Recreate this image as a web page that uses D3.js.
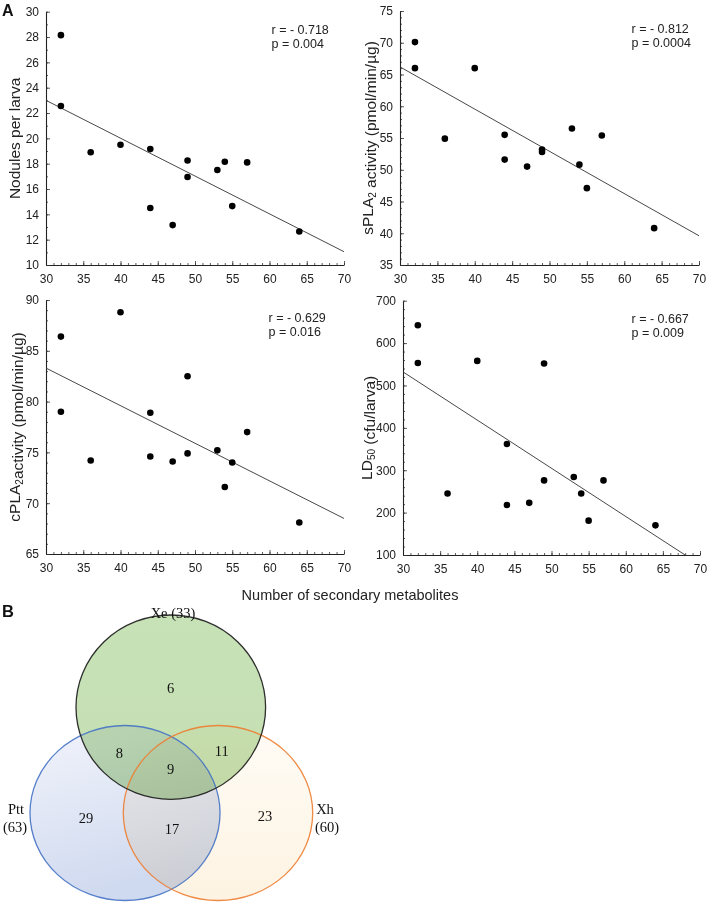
<!DOCTYPE html>
<html>
<head>
<meta charset="utf-8">
<script src="https://cdn.jsdelivr.net/npm/d3@7"></script>
<style>
  html, body { margin: 0; padding: 0; background: #fff; }
  svg { display: block; }
  .tick text { font-family: "Liberation Sans", Arial, sans-serif; font-size: 12px; fill: #222; }
</style>
</head>
<body>
<svg id="chart" width="709" height="903"></svg>
<script>
// ---------------- DATA ----------------
const metabolites = [32, 32, 36, 40, 44, 44, 47, 49, 49, 53, 54, 55, 57, 64];
const nodules     = [28.15, 22.55, 18.9, 19.5, 19.15, 14.5, 13.15, 18.25, 16.95, 17.5, 18.15, 14.65, 18.1, 12.65];
const sPLA2       = [70.1, 66.0, 54.9, 66.0, 55.5, 51.6, 50.5, 52.8, 53.2, 56.5, 50.8, 47.1, 55.4, 40.8];
const cPLA2       = [86.4, 79.0, 74.2, 88.8, 78.9, 74.6, 74.1, 82.5, 74.9, 75.2, 71.6, 74.0, 77.0, 68.1];
const LD50        = [642, 553, 245, 558, 362, 218, 223, 552, 276, 284, 245, 181, 276, 170];

const xTicks = [30, 35, 40, 45, 50, 55, 60, 65, 70];
const yTicks1 = [10, 12, 14, 16, 18, 20, 22, 24, 26, 28, 30];
const yTicks2 = [35, 40, 45, 50, 55, 60, 65, 70, 75];
const yTicks3 = [65, 70, 75, 80, 85, 90];
const yTicks4 = [100, 200, 300, 400, 500, 600, 700];

// regression line end points [x0, y0, x1, y1]
const fit1 = [30, 23.0, 70, 11.05];
const fit2 = [30, 66.2, 70, 39.6];
const fit3 = [30, 83.3, 70, 68.5];
const fit4 = [30, 532, 68, 100];

const stats1 = ["r = - 0.718", "p = 0.004"];
const stats2 = ["r = - 0.812", "p = 0.0004"];
const stats3 = ["r = - 0.629", "p = 0.016"];
const stats4 = ["r = - 0.667", "p = 0.009"];

const xTitle = "Number of secondary metabolites";

// Venn
const vennSets = ["Xe (33)", "Ptt", "(63)", "Xh", "(60)"];
const vennCounts = { xeOnly: 6, xePtt: 8, all: 9, xeXh: 11, pttOnly: 29, pttXh: 17, xhOnly: 23 };

// ---------------- DRAW ----------------
const svg = d3.select("#chart");
const FONT = '"Liberation Sans", Arial, sans-serif';
const SERIF = '"Liberation Serif", "Times New Roman", serif';

function panel(cfg) {
  const g = svg.append("g");
  const x = d3.scaleLinear().domain([30, 70]).range([cfg.left, cfg.right]);
  const y = d3.scaleLinear().domain(cfg.yDomain).range([cfg.bottom, cfg.top]);

  // minor ticks x
  const xMinor = d3.range(30, 71, 1);
  g.append("g").attr("transform", `translate(0,${cfg.bottom})`)
    .call(d3.axisBottom(x).tickValues(xMinor).tickSize(-2).tickSizeOuter(0).tickFormat(""))
    .call(s => s.select(".domain").remove())
    .call(s => s.selectAll("line").attr("stroke", "#333").attr("stroke-width", 0.8));
  // major x
  g.append("g").attr("transform", `translate(0,${cfg.bottom})`)
    .call(d3.axisBottom(x).tickValues(xTicks).tickSize(-4).tickSizeOuter(0).tickPadding(9))
    .call(s => s.select(".domain").attr("stroke", "#222").attr("stroke-width", 1.1))
    .call(s => s.selectAll("line").attr("stroke", "#333").attr("stroke-width", 0.8));

  // minor y
  const yMinor = d3.range(cfg.yDomain[0], cfg.yDomain[1] + 1e-9, cfg.yMinor);
  g.append("g").attr("transform", `translate(${cfg.left},0)`)
    .call(d3.axisLeft(y).tickValues(yMinor).tickSize(-2).tickSizeOuter(0).tickFormat(""))
    .call(s => s.select(".domain").remove())
    .call(s => s.selectAll("line").attr("stroke", "#333").attr("stroke-width", 0.8));
  // major y
  g.append("g").attr("transform", `translate(${cfg.left},0)`)
    .call(d3.axisLeft(y).tickValues(cfg.yTicks).tickSize(-4).tickSizeOuter(0).tickPadding(7))
    .call(s => s.select(".domain").attr("stroke", "#222").attr("stroke-width", 1.1))
    .call(s => s.selectAll("line").attr("stroke", "#333").attr("stroke-width", 0.8));

  // regression line
  g.append("line")
    .attr("x1", x(cfg.fit[0])).attr("y1", y(cfg.fit[1]))
    .attr("x2", x(cfg.fit[2])).attr("y2", y(cfg.fit[3]))
    .attr("stroke", "#333").attr("stroke-width", 0.9);

  // points
  g.selectAll("circle.pt").data(metabolites.map((m, i) => [m, cfg.values[i]]))
    .join("circle").attr("class", "pt")
    .attr("cx", d => x(d[0])).attr("cy", d => y(d[1])).attr("r", 3.3)
    .attr("fill", "#000");

  // stats
  g.append("text").attr("x", cfg.statsX).attr("y", cfg.top + 22)
    .attr("font-family", FONT).attr("font-size", 12.5).attr("fill", "#222").text(cfg.stats[0]);
  g.append("text").attr("x", cfg.statsX).attr("y", cfg.top + 36)
    .attr("font-family", FONT).attr("font-size", 12.5).attr("fill", "#222").text(cfg.stats[1]);

  // y title
  const t = g.append("text")
    .attr("transform", `translate(${cfg.titleX},${(cfg.top + cfg.bottom) / 2}) rotate(-90)`)
    .attr("text-anchor", "middle").attr("dy", "0.35em")
    .attr("font-family", FONT).attr("font-size", 15.5).attr("fill", "#222");
  cfg.title.forEach(part => {
    if (part.sub) {
      t.append("tspan").attr("font-size", 10).attr("dy", "0.3em").text(part.text);
      t.append("tspan").attr("dy", "-0.2em").text("");
    } else {
      t.append("tspan").text(part.text);
    }
  });
}

panel({ left: 46, right: 344, top: 11.7, bottom: 265, yDomain: [10, 30], yTicks: yTicks1, yMinor: 1,
  values: nodules, fit: fit1, stats: stats1, statsX: 271.5, titleX: 14.5,
  title: [{ text: "Nodules per larva" }] });
panel({ left: 400, right: 699, top: 11, bottom: 265, yDomain: [35, 75], yTicks: yTicks2, yMinor: 1,
  values: sPLA2, fit: fit2, stats: stats2, statsX: 631.5, titleX: 368,
  title: [{ text: "sPLA" }, { text: "2", sub: true }, { text: " activity (pmol/min/µg)" }] });
panel({ left: 46, right: 344, top: 300, bottom: 554, yDomain: [65, 90], yTicks: yTicks3, yMinor: 1,
  values: cPLA2, fit: fit3, stats: stats3, statsX: 268.5, titleX: 14.5,
  title: [{ text: "cPLA" }, { text: "2", sub: true }, { text: "activity (pmol/min/µg)" }] });
panel({ left: 403, right: 700, top: 300.7, bottom: 555, yDomain: [100, 700], yTicks: yTicks4, yMinor: 20,
  values: LD50, fit: fit4, stats: stats4, statsX: 631.5, titleX: 366.5,
  title: [{ text: "LD" }, { text: "50", sub: true }, { text: " (cfu/larva)" }] });

// shared x title
svg.append("text").attr("x", 350).attr("y", 600).attr("text-anchor", "middle")
  .attr("font-family", FONT).attr("font-size", 14.5).attr("fill", "#222").text(xTitle);

// panel letters
svg.append("text").attr("x", 2).attr("y", 16).attr("font-family", FONT).attr("font-weight", "bold")
  .attr("font-size", 16).attr("fill", "#111").text("A");
svg.append("text").attr("x", 2).attr("y", 617).attr("font-family", FONT).attr("font-weight", "bold")
  .attr("font-size", 16.5).attr("fill", "#111").text("B");

// ---------------- VENN ----------------
const defs = svg.append("defs");
const gradB = defs.append("linearGradient").attr("id", "gB").attr("x1", 0).attr("y1", 0).attr("x2", 0.3).attr("y2", 1);
gradB.append("stop").attr("offset", "0%").attr("stop-color", "#f2f4fb");
gradB.append("stop").attr("offset", "100%").attr("stop-color", "#cfd9ef");
const gradO = defs.append("linearGradient").attr("id", "gO").attr("x1", 0).attr("y1", 0).attr("x2", 0).attr("y2", 1);
gradO.append("stop").attr("offset", "0%").attr("stop-color", "#fffcf6");
gradO.append("stop").attr("offset", "100%").attr("stop-color", "#fdf3e2");
const gradG = defs.append("linearGradient").attr("id", "gG").attr("x1", 0).attr("y1", 0).attr("x2", 0).attr("y2", 1);
gradG.append("stop").attr("offset", "0%").attr("stop-color", "#c8e2b8");
gradG.append("stop").attr("offset", "100%").attr("stop-color", "#c4dfb1");

const ellipses = [
  { cx: 125, cy: 813, rx: 95, ry: 87.5, fill: "url(#gB)", stroke: "#4472c4" },
  { cx: 218, cy: 813, rx: 94.7, ry: 87.5, fill: "url(#gO)", stroke: "#ed7d31" },
  { cx: 170.8, cy: 707.2, rx: 94.8, ry: 92.2, fill: "url(#gG)", stroke: "#1a1a1a" }
];
const vg = svg.append("g");
vg.selectAll("ellipse.fill").data(ellipses).join("ellipse").attr("class", "fill")
  .attr("cx", d => d.cx).attr("cy", d => d.cy).attr("rx", d => d.rx).attr("ry", d => d.ry)
  .attr("fill", d => d.fill).style("mix-blend-mode", "multiply");
vg.selectAll("ellipse.stroke").data(ellipses).join("ellipse").attr("class", "stroke")
  .attr("cx", d => d.cx).attr("cy", d => d.cy).attr("rx", d => d.rx).attr("ry", d => d.ry)
  .attr("fill", "none").attr("stroke", d => d.stroke).attr("stroke-width", 1.3)
  .attr("stroke-opacity", 0.9);

const vennLabels = [
  { t: vennSets[0], x: 173, y: 613 },
  { t: vennSets[1], x: 16, y: 809 },
  { t: vennSets[2], x: 15, y: 827 },
  { t: vennSets[3], x: 325, y: 809 },
  { t: vennSets[4], x: 327, y: 827 },
  { t: vennCounts.xeOnly, x: 170.7, y: 688 },
  { t: vennCounts.xePtt, x: 119.3, y: 753 },
  { t: vennCounts.all, x: 170.7, y: 769 },
  { t: vennCounts.xeXh, x: 221.7, y: 751 },
  { t: vennCounts.pttOnly, x: 86, y: 818 },
  { t: vennCounts.pttXh, x: 172, y: 829 },
  { t: vennCounts.xhOnly, x: 265, y: 816 }
];
vg.selectAll("text").data(vennLabels).join("text")
  .attr("x", d => d.x).attr("y", d => d.y).attr("dy", "0.35em")
  .attr("text-anchor", "middle").attr("font-family", SERIF).attr("font-size", 14.5)
  .attr("fill", "#111").text(d => d.t);
</script>
</body>
</html>
